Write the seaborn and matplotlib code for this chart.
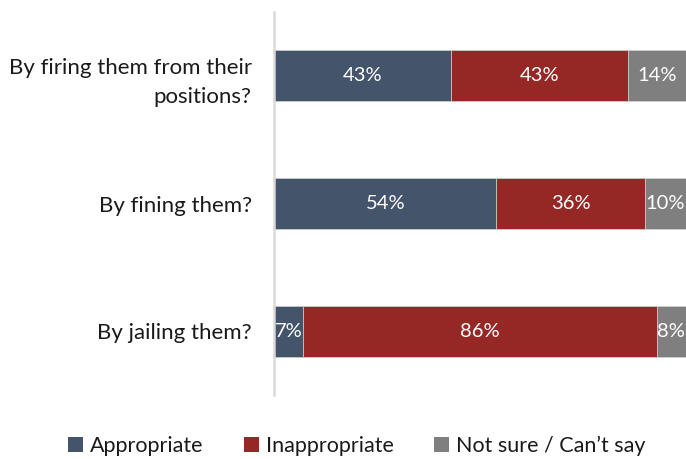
import matplotlib
matplotlib.use("Agg")
import matplotlib.pyplot as plt
import seaborn as sns
import pandas as pd
import numpy as np
from matplotlib.patches import Patch

questions = ["By firing them from their\npositions?", "By fining them?", "By jailing them?"]
appropriate = [43, 54, 7]
inappropriate = [43, 36, 86]
not_sure = [14, 10, 8]
series_names = ["Appropriate", "Inappropriate", "Not sure / Can\u2019t say"]
colors = ["#44546A", "#952824", "#7F7F7F"]

sns.set_theme(style="white")
plt.rcParams["font.family"] = ["Lato", "DejaVu Sans"]

fig = plt.figure(figsize=(6.86, 4.59), dpi=100)
ax = fig.add_axes([0.3994, 0.139, 0.6006, 0.835])

df = pd.DataFrame({
    "question": questions,
    "a": appropriate,
    "i": inappropriate,
    "n": not_sure,
})
df["cum_a"] = df["a"]
df["cum_i"] = df["a"] + df["i"]
df["cum_n"] = df["a"] + df["i"] + df["n"]

# Stack by overdrawing cumulative totals, longest first
for col, color in zip(["cum_n", "cum_i", "cum_a"], colors[::-1]):
    sns.barplot(data=df, y="question", x=col, color=color, orient="h",
                width=0.4, ax=ax, edgecolor="#cfcfcf", linewidth=0.6,
                saturation=1)

# Value labels centred in each segment (the last one kept inside the canvas)
for idx in range(len(questions)):
    starts = [0, df["cum_a"][idx], df["cum_i"][idx]]
    vals = [appropriate[idx], inappropriate[idx], not_sure[idx]]
    for s, v in zip(starts, vals):
        xc = min(s + v / 2, 96.3)
        ax.text(xc, idx, f"{v}%", ha="center", va="center",
                color="white", fontsize=14.5)

ax.set_xlim(0, 100)
ax.set_ylim(2.5, -0.5)
ax.set_xlabel("")
ax.set_ylabel("")
ax.set_xticks([])
ax.tick_params(axis="y", length=0, pad=16, labelsize=16, labelcolor="#1a1a1a")
for lab in ax.get_yticklabels():
    lab.set_horizontalalignment("right")
    lab.set_multialignment("right")
    lab.set_linespacing(1.6)
for side in ["top", "right", "bottom"]:
    ax.spines[side].set_visible(False)
ax.spines["left"].set_color("#D9D9D9")
ax.spines["left"].set_linewidth(1.8)

handles = [Patch(facecolor=c, edgecolor="none") for c in colors]
fig.legend(handles, series_names, loc="lower center", bbox_to_anchor=(0.52, -0.035),
           ncol=3, frameon=False, fontsize=15.5, handlelength=0.7, handleheight=0.7,
           handletextpad=0.3, columnspacing=1.9, labelcolor="#1a1a1a")

fig.savefig("out.png", dpi=100)
